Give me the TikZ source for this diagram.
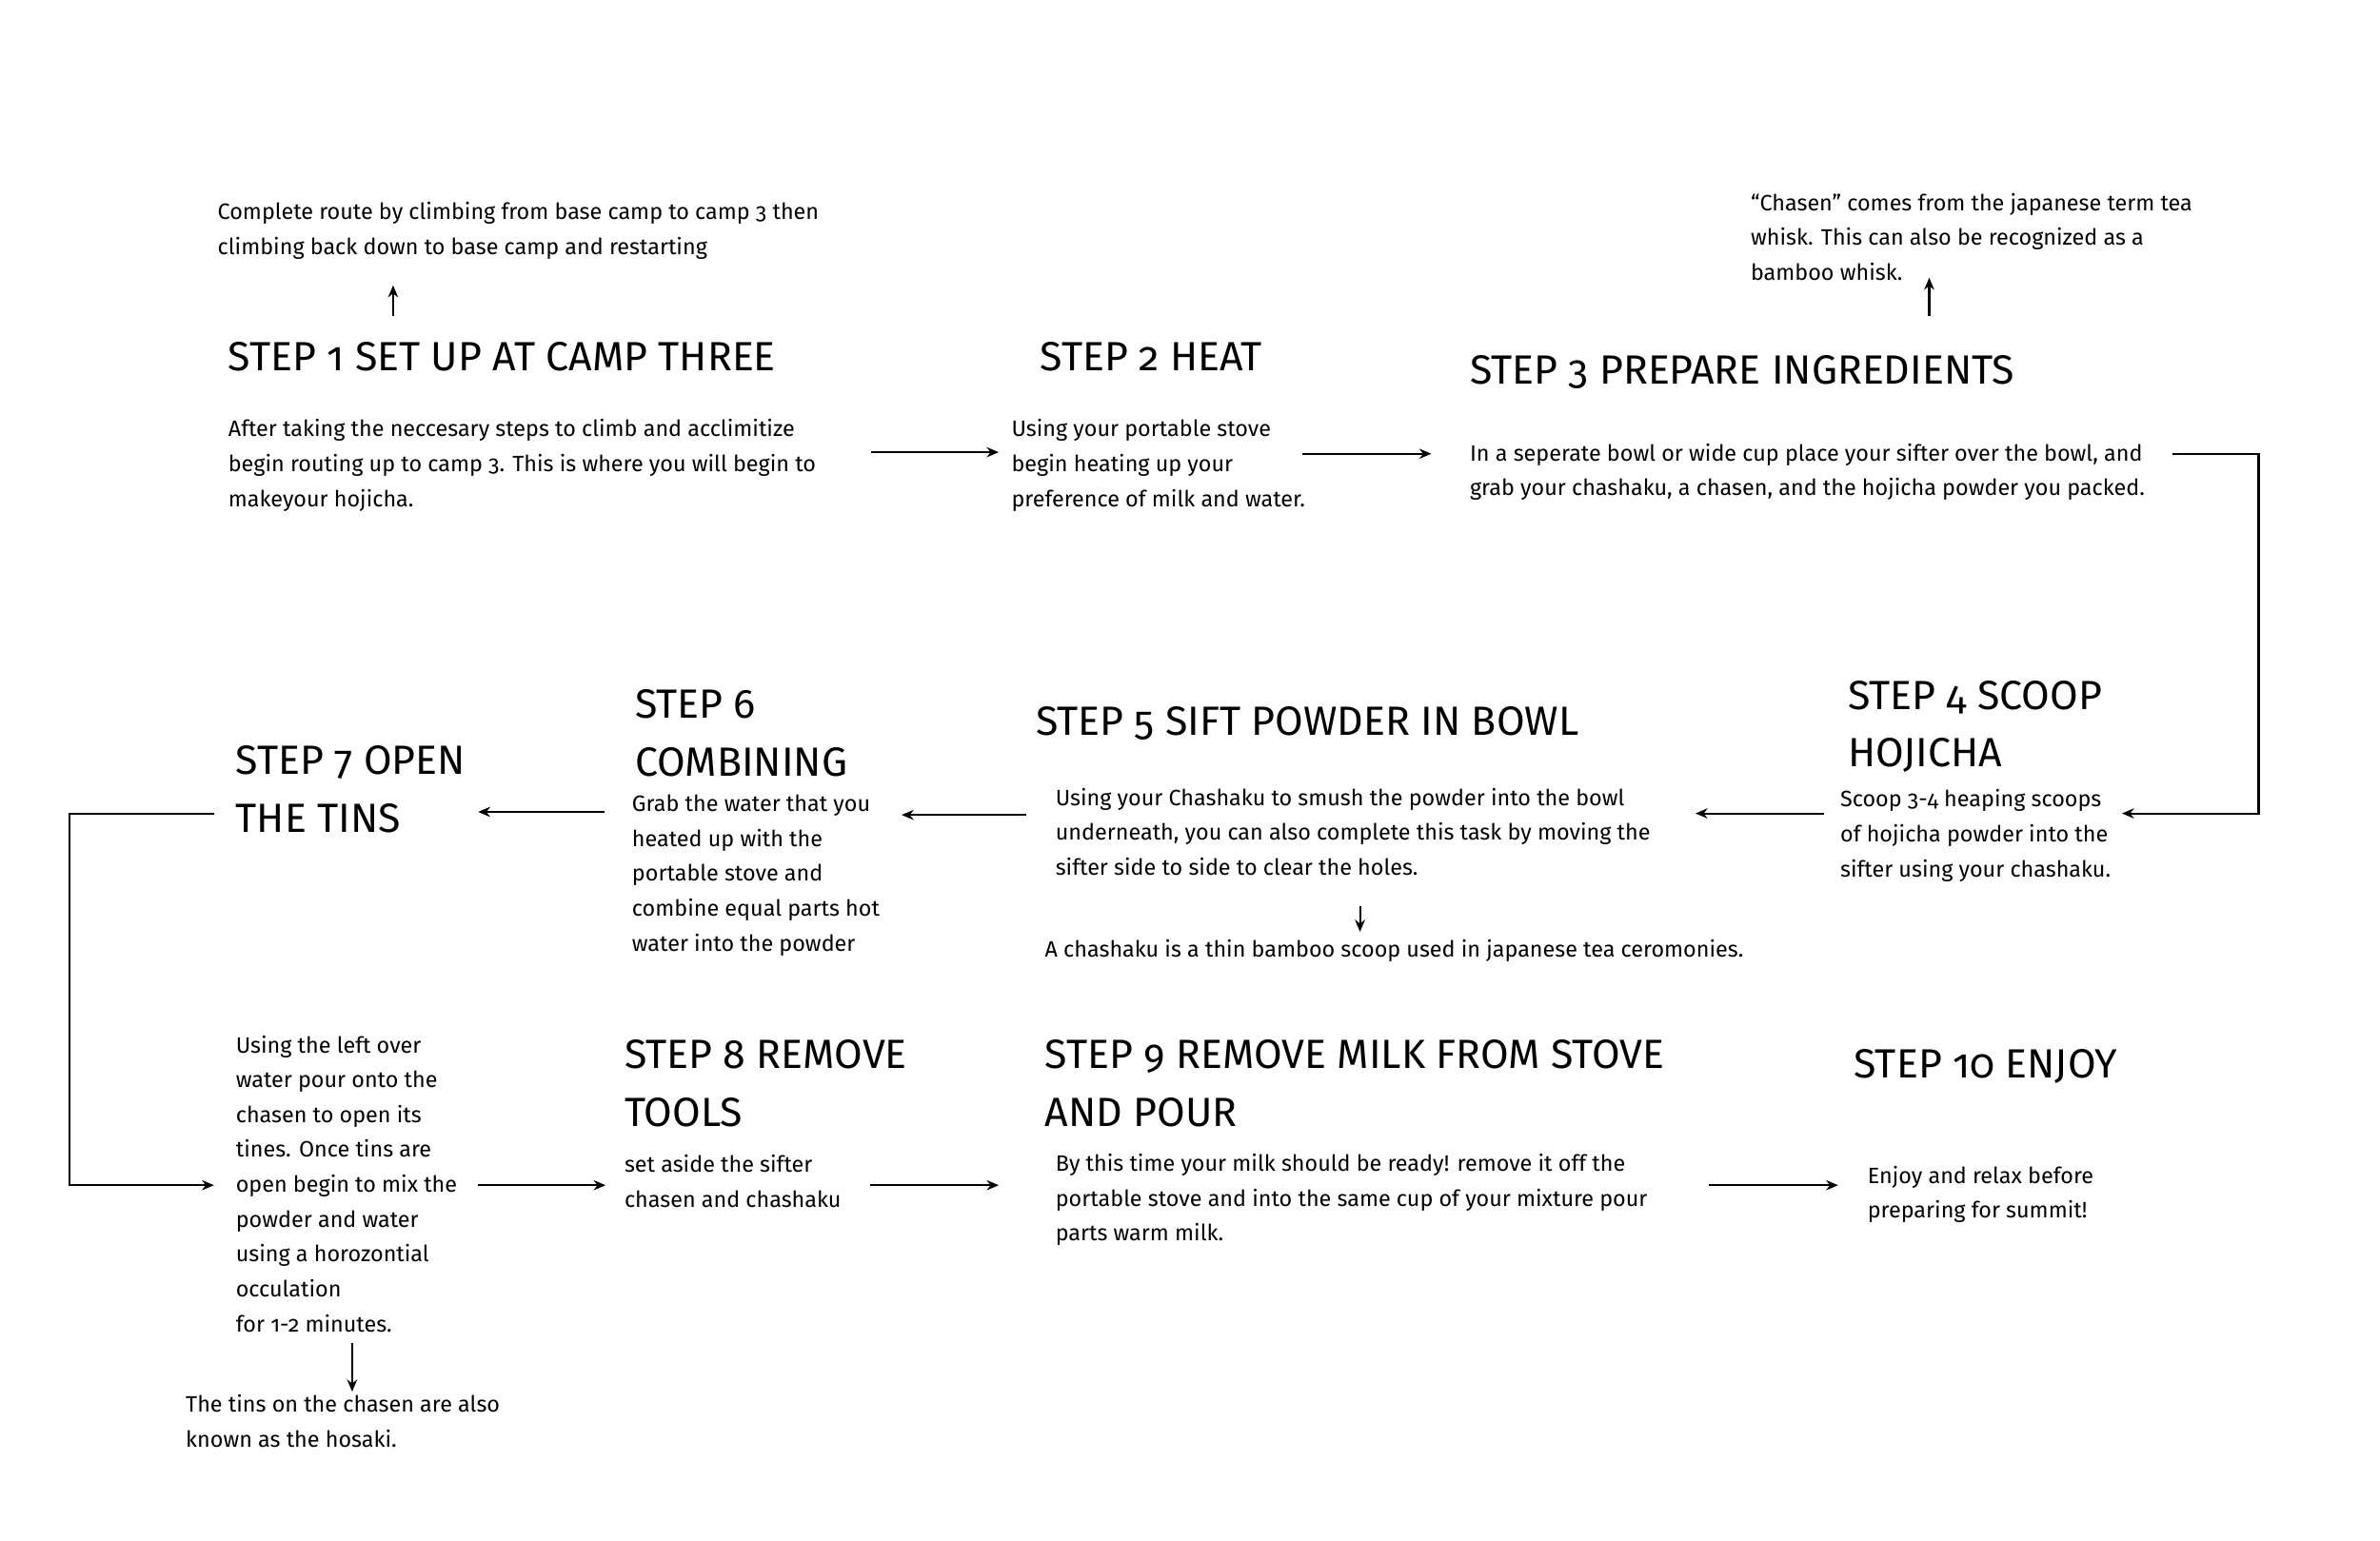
\documentclass[tikz,border=0pt]{standalone}
\usepackage{fontspec}
\setmainfont{Fira Sans}[Numbers=OldStyle]
\newfontfamily\bodyfont{Fira Sans}[Numbers=OldStyle]
\usetikzlibrary{arrows.meta}
\newcommand\blk[1]{\begin{tabular}[t]{@{}l@{}}#1\end{tabular}}
\begin{document}
\begin{tikzpicture}[x=0.015944cm, y=-0.015944cm,
  body/.style={anchor=base west, inner sep=0pt, font=\bodyfont\fontsize{6.65}{10.43}\selectfont},
  ttl/.style={anchor=base west, inner sep=0pt, font=\fontsize{12.2}{17.2}\selectfont},
  arr/.style={-{Stealth[length=3.6pt,width=3pt]}, line width=0.6pt},
  ]
\useasboundingbox[fill=white] (0,0) rectangle (1568,1015);

% notes
\node[body] (n1) at (143,144.5) {\blk{Complete route by climbing from base camp to camp 3 then\\climbing back down to base camp and restarting}};
\node[body] (n3) at (1153,138.7) {\blk{“Chasen” comes from the japanese term tea\\whisk. This can also be recognized as a\\bamboo whisk.}};
\node[body] (n5) at (688,630.7) {\blk{A chashaku is a thin bamboo scoop used in japanese tea ceromonies.}};
\node[body] (n7) at (122,930.7) {\blk{The tins on the chasen are also\\known as the hosaki.}};

% titles
\node[ttl] (t1) at (150,244.3) {\blk{STEP 1 SET UP AT CAMP THREE}};
\node[ttl] (t2) at (685,244.3) {\blk{STEP 2 HEAT}};
\node[ttl] (t3) at (968,253.3) {\blk{STEP 3 PREPARE INGREDIENTS}};
\node[ttl] (t4) at (1217,467.3) {\blk{STEP 4 SCOOP\\HOJICHA}};
\node[ttl] (t5) at (682,484.3) {\blk{STEP 5 SIFT POWDER IN BOWL}};
\node[ttl] (t6) at (418,473.3) {\blk{STEP 6\\COMBINING}};
\node[ttl] (t7) at (155,510.3) {\blk{STEP 7 OPEN\\THE TINS}};
\node[ttl] (t8) at (411,704.3) {\blk{STEP 8 REMOVE\\TOOLS}};
\node[ttl] (t9) at (688,704.3) {\blk{STEP 9 REMOVE MILK FROM STOVE\\AND POUR}};
\node[ttl] (t10) at (1221,710.3) {\blk{STEP 10 ENJOY}};

% bodies
\node[body] (b1) at (150,287.7) {\blk{After taking the neccesary steps to climb and acclimitize\\begin routing up to camp 3. This is where you will begin to\\makeyour hojicha.}};
\node[body] (b2) at (666,287.7) {\blk{Using your portable stove\\begin heating up your\\preference of milk and water.}};
\node[body] (b3) at (968,303.7) {\blk{In a seperate bowl or wide cup place your sifter over the bowl, and\\grab your chashaku, a chasen, and the hojicha powder you packed.}};
\node[body] (b4) at (1212,531.7) {\blk{Scoop 3-4 heaping scoops\\of hojicha powder into the\\sifter using your chashaku.}};
\node[body] (b5) at (695,530.7) {\blk{Using your Chashaku to smush the powder into the bowl\\underneath, you can also complete this task by moving the\\sifter side to side to clear the holes.}};
\node[body] (b6) at (416,534.7) {\blk{Grab the water that you\\heated up with the\\portable stove and\\combine equal parts hot\\water into the powder}};
\node[body] (b7) at (155,693.7) {\blk{Using the left over\\water pour onto the\\chasen to open its\\tines. Once tins are\\open begin to mix the\\powder and water\\using a horozontial\\occulation\\for 1-2 minutes.}};
\node[body] (b8) at (411,772.7) {\blk{set aside the sifter\\chasen and chashaku}};
\node[body] (b9) at (695,771.7) {\blk{By this time your milk should be ready! remove it off the\\portable stove and into the same cup of your mixture pour\\parts warm milk.}};
\node[body] (b10) at (1230,779.7) {\blk{Enjoy and relax before\\preparing for summit!}};

% connector end points
\coordinate (u1a) at (259,208); \coordinate (u1b) at (259,188);
\coordinate (a12a) at (574,298); \coordinate (a12b) at (658,298);
\coordinate (a23a) at (858,299); \coordinate (a23b) at (943,299);
\coordinate (u3a) at (1271,208); \coordinate (u3b) at (1271,183);
\coordinate (a34a) at (1431,299); \coordinate (a34k) at (1488,299); \coordinate (a34l) at (1488,536); \coordinate (a34b) at (1398,536);
\coordinate (a45a) at (1202,536); \coordinate (a45b) at (1117,536);
\coordinate (d5a) at (896,597); \coordinate (d5b) at (896,614);
\coordinate (a56a) at (676,537); \coordinate (a56b) at (594,537);
\coordinate (a67a) at (398,535); \coordinate (a67b) at (315,535);
\coordinate (a7a) at (141,536); \coordinate (a7k) at (46,536); \coordinate (a7l) at (46,781); \coordinate (a7b) at (141,781);
\coordinate (d7a) at (232,885); \coordinate (d7b) at (232,917);
\coordinate (a78a) at (315,781); \coordinate (a78b) at (399,781);
\coordinate (a89a) at (573,781); \coordinate (a89b) at (658,781);
\coordinate (a910a) at (1126,781); \coordinate (a910b) at (1211,781);

\draw[arr] (u1a) -- (u1b);
\draw[arr] (a12a) -- (a12b);
\draw[arr] (a23a) -- (a23b);
\draw[arr] (u3a) -- (u3b);
\draw[arr] (a34a) -- (a34k) -- (a34l) -- (a34b);
\draw[arr] (a45a) -- (a45b);
\draw[arr] (d5a) -- (d5b);
\draw[arr] (a56a) -- (a56b);
\draw[arr] (a67a) -- (a67b);
\draw[arr] (a7a) -- (a7k) -- (a7l) -- (a7b);
\draw[arr] (d7a) -- (d7b);
\draw[arr] (a78a) -- (a78b);
\draw[arr] (a89a) -- (a89b);
\draw[arr] (a910a) -- (a910b);
\end{tikzpicture}
\end{document}
